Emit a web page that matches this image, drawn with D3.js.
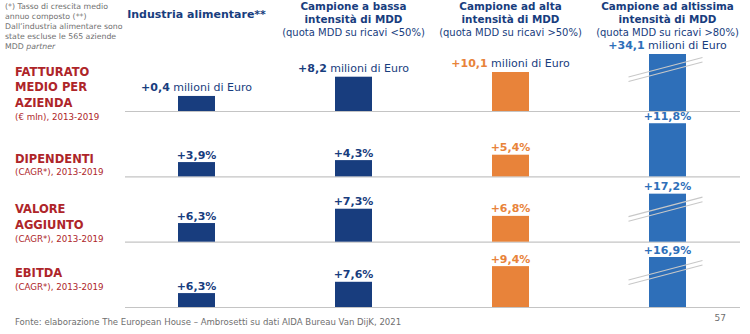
<!DOCTYPE html>
<html>
<head>
<meta charset="utf-8">
<script src="https://cdn.jsdelivr.net/npm/d3@7"></script>
<style>
  html, body { margin: 0; padding: 0; background: #fff; }
  svg { display: block; font-family: 'DejaVu Sans', Verdana, sans-serif; }
</style>
</head>
<body>
<div id="chart"></div>
<script>
"use strict";
// column headers
const colTitles = [
    ['Industria alimentare**'],
    ['Campione a bassa', 'intensità di MDD'],
    ['Campione ad alta', 'intensità di MDD'],
    ['Campione ad altissima', 'intensità di MDD']
];
const colNotes = ['', '(quota MDD su ricavi <50%)', '(quota MDD su ricavi >50%)', '(quota MDD su ricavi >80%)'];

// row headers
const rowTitles = [['FATTURATO', 'MEDIO PER', 'AZIENDA'], ['DIPENDENTI'], ['VALORE', 'AGGIUNTO'], ['EBITDA']];
const rowNotes = ['(€ mln), 2013-2019', '(CAGR*), 2013-2019', '(CAGR*), 2013-2019', '(CAGR*), 2013-2019'];

// values per column
const fatturato = [0.4, 8.2, 10.1, 34.1];
const dipendenti = [3.9, 4.3, 5.4, 11.8];
const valoreAggiunto = [6.3, 7.3, 6.8, 17.2];
const ebitda = [6.3, 7.6, 9.4, 16.9];
const rowValues = [fatturato, dipendenti, valoreAggiunto, ebitda];

const noteLines = [' (*) Tasso di crescita medio', 'annuo composto (**)', 'Dall\u2019industria alimentare sono', 'state escluse le 565 aziende'];
const source = 'Fonte: elaborazione The European House \u2013 Ambrosetti su dati AIDA Bureau Van DijK, 2021';
const pageNumber = '57';

const width = 750, height = 334;
const navy = '#183D7E', orange = '#E8833A', blue = '#2E6FB9', red = '#AE2529', grey = '#6f6f6f';
const barColors = [navy, navy, orange, blue];
const barWidth = 37;

const it = d3.formatLocale({decimal: ',', thousands: '.', grouping: [3], currency: ['', ' €']});
const fmt = it.format('+.1f');

const svg = d3.select('#chart').append('svg')
    .attr('width', width)
    .attr('height', height)
    .attr('viewBox', '0 0 ' + width + ' ' + height)
    .style('background', '#fff');

const x = d3.scalePoint().domain(d3.range(4)).range([118, 746]).padding(0.5);
const rowY = d3.scalePoint().domain(d3.range(4)).range([111, 307]);

// each row has its own height scale; bars beyond the domain are drawn cut
const rowScales = [
    d3.scaleLinear().domain([-5.7, 17.4]).range([0, 57]),
    d3.scaleLinear().domain([1, 13]).range([0, 59]),
    d3.scaleLinear().domain([5, 8.35]).range([0, 48]),
    d3.scaleLinear().domain([4.7, 10.45]).range([0, 50])
].map(s => s.clamp(true));
const titleOffsets = [-35.3, -13.8, -28.2, -30];

// top-left note
const note = svg.append('text')
    .attr('fill', grey)
    .style('font-size', '7.8px');
noteLines.forEach((s, i) => {
    note.append('tspan').attr('x', 5).attr('y', 9 + i * 9.9).text(s);
});
note.append('tspan').attr('x', 5).attr('y', 9 + 4 * 9.9).text('MDD ');
note.append('tspan').style('font-style', 'italic').text('partner');

// column headers
const heads = svg.append('g').selectAll('g')
    .data(colTitles)
    .enter()
    .append('g')
    .attr('transform', (d, i) => 'translate(' + x(i) + ',0)');
heads.append('text')
    .attr('text-anchor', 'middle')
    .attr('fill', navy)
    .style('font-weight', 'bold')
    .style('font-size', (d, i) => i === 0 ? '11px' : '10.4px')
    .each(function (d) {
        const t = d3.select(this);
        d.forEach((s, j) => {
            t.append('tspan').attr('x', 0).attr('y', d.length === 1 ? 18.3 : 10 + j * 13.3).text(s);
        });
    });
heads.append('text')
    .attr('text-anchor', 'middle')
    .attr('y', 35.8)
    .attr('fill', navy)
    .style('font-size', '10px')
    .text((d, i) => colNotes[i]);

// rows
rowValues.forEach(function (values, r) {
    const base = rowY(r);
    const h = rowScales[r];
    const row = svg.append('g');

    // row header
    const title = row.append('text')
        .attr('fill', red)
        .style('font-weight', 'bold')
        .style('font-size', '11.5px');
    rowTitles[r].forEach((s, j) => {
        title.append('tspan').attr('x', 15).attr('y', base + titleOffsets[r] + j * 15.7).text(s);
    });
    row.append('text')
        .attr('x', 15)
        .attr('y', base + titleOffsets[r] + (rowTitles[r].length - 1) * 15.7 + 12.5)
        .attr('fill', red)
        .style('font-size', '8.7px')
        .text(rowNotes[r]);

    row.append('line')
        .attr('x1', 125).attr('x2', 740)
        .attr('y1', base + 0.5).attr('y2', base + 0.5)
        .attr('stroke', '#c4c4c4')
        .attr('stroke-width', 1.2);

    const cells = row.selectAll('.cell')
        .data(values)
        .enter()
        .append('g')
        .attr('class', 'cell')
        .attr('transform', (d, i) => 'translate(' + x(i) + ',' + base + ')');

    cells.append('rect')
        .attr('x', -barWidth / 2)
        .attr('y', d => -h(d))
        .attr('width', barWidth)
        .attr('height', d => h(d))
        .attr('fill', (d, i) => barColors[i]);

    // break marks on bars that run past the scale
    const cut = cells.filter(d => d > h.domain()[1])
        .append('g')
        .attr('transform', d => 'translate(-2,' + (-h(d) + 15.5) + ')');
    [-2.3, 2.3].forEach(function (dy) {
        cut.append('line')
            .attr('x1', -37).attr('y1', dy + 37 * 0.263)
            .attr('x2', 37).attr('y2', dy - 37 * 0.263)
            .attr('stroke', '#c8c8c8')
            .attr('stroke-width', 1.1);
    });

    // value labels
    const label = cells.append('text')
        .attr('text-anchor', 'middle')
        .attr('y', d => -h(d) - (r === 0 ? 5.2 : 3.5))
        .style('font-size', '11px');
    label.append('tspan')
        .attr('fill', (d, i) => barColors[i])
        .style('font-weight', 'bold')
        .text(d => fmt(d) + (r === 0 ? '' : '%'));
    if (r === 0) {
        label.append('tspan')
            .attr('fill', navy)
            .text(' milioni di Euro');
    }
});

// source and page number
svg.append('text')
    .attr('x', 15)
    .attr('y', 325)
    .attr('fill', grey)
    .style('font-size', '9.5px')
    .style('font-family', "'DejaVu Sans Condensed', 'DejaVu Sans', sans-serif")
    .style('font-stretch', 'condensed')
    .text(source);
svg.append('text')
    .attr('x', 726)
    .attr('y', 321)
    .attr('text-anchor', 'end')
    .attr('fill', grey)
    .style('font-size', '9px')
    .text(pageNumber);
</script>
</body>
</html>
